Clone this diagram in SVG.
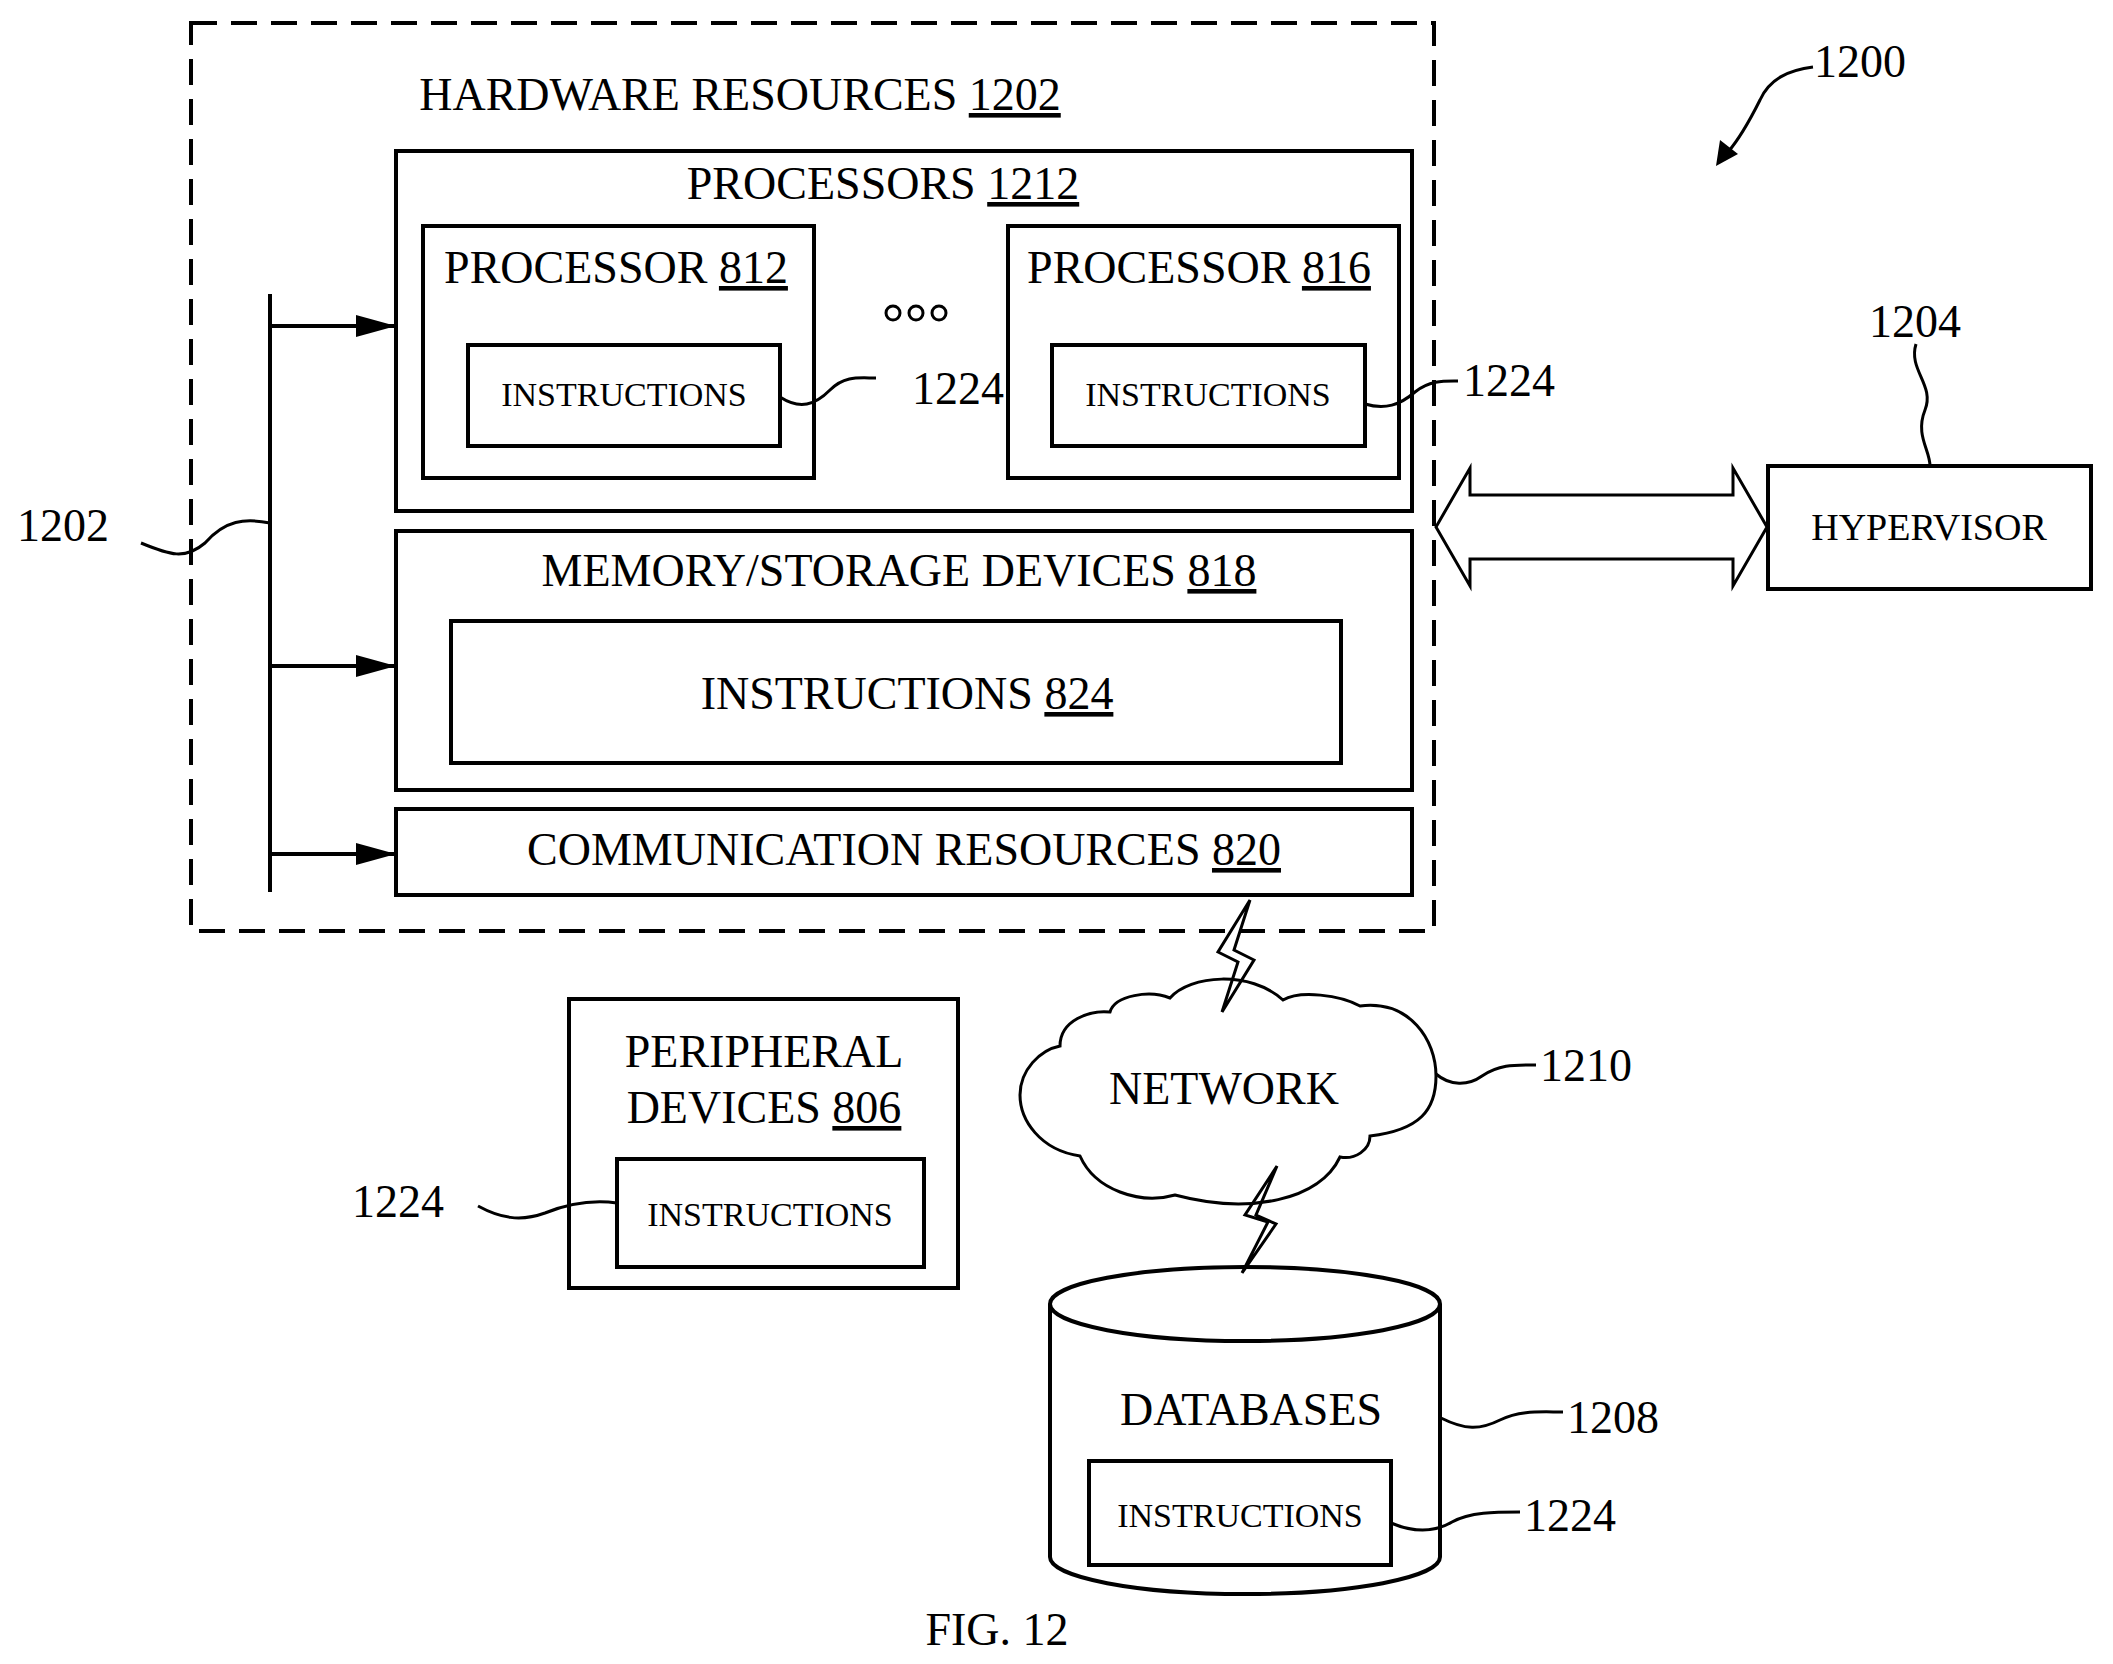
<svg xmlns="http://www.w3.org/2000/svg" width="2113" height="1664" viewBox="0 0 2113 1664">
<style>
text{font-family:"Liberation Serif","Times New Roman",serif;fill:#000;text-anchor:middle}
.b{font-size:46px}.s{font-size:34px}
.u{text-decoration:underline}
.box{fill:#fff;stroke:#000;stroke-width:4}
.ln{fill:none;stroke:#000;stroke-width:3}
</style>
<defs>
<marker id="ah" markerWidth="40" markerHeight="22" refX="40" refY="11" orient="auto" markerUnits="userSpaceOnUse" viewBox="0 0 40 22"><path d="M0,0L40,11L0,22z"/></marker>
</defs>
<rect width="2113" height="1664" fill="#fff"/>
<g id="hardware">
<rect x="191" y="23" width="1243" height="908" fill="none" stroke="#000" stroke-width="4" stroke-dasharray="26,14"/>
<text class="b" x="740" y="110">HARDWARE RESOURCES <tspan class="u">1202</tspan></text>
</g>
<g id="processors">
<rect class="box" x="396" y="151" width="1016" height="360"/>
<text class="b" x="883" y="199">PROCESSORS <tspan class="u">1212</tspan></text>
<circle cx="893" cy="313" r="7" class="ln"/><circle cx="916" cy="313" r="7" class="ln"/><circle cx="939" cy="313" r="7" class="ln"/>
</g>
<g id="p812">
<rect class="box" x="423" y="226" width="391" height="252"/>
<text class="b" x="616" y="283">PROCESSOR <tspan class="u">812</tspan></text>
<rect class="box" x="468" y="345" width="312" height="101"/>
<text class="s" x="624" y="406">INSTRUCTIONS</text>
</g>
<g id="p816">
<rect class="box" x="1008" y="226" width="391" height="252"/>
<text class="b" x="1199" y="283">PROCESSOR <tspan class="u">816</tspan></text>
<rect class="box" x="1052" y="345" width="313" height="101"/>
<text class="s" x="1208" y="406">INSTRUCTIONS</text>
</g>
<g id="memory">
<rect class="box" x="396" y="531" width="1016" height="259"/>
<text class="b" x="899" y="586">MEMORY/STORAGE DEVICES <tspan class="u">818</tspan></text>
<rect class="box" x="451" y="621" width="890" height="142"/>
<text class="b" x="907" y="709">INSTRUCTIONS <tspan class="u">824</tspan></text>
</g>
<g id="comm">
<rect class="box" x="396" y="809" width="1016" height="86"/>
<text class="b" x="904" y="865">COMMUNICATION RESOURCES <tspan class="u">820</tspan></text>
</g>
<g id="hypervisor">
<rect class="box" x="1768" y="466" width="323" height="123"/>
<text x="1929" y="540" style="font-size:38px">HYPERVISOR</text>
</g>
<g id="network">
<path class="ln" d="M1060,1046 C1060,1020 1090,1010 1110,1012 C1115,995 1150,990 1170,998 C1190,975 1250,970 1283,1000 C1300,990 1340,995 1360,1006 C1410,1000 1436,1040 1436,1076 C1436,1110 1420,1130 1370,1136 C1370,1150 1355,1160 1340,1157 C1320,1200 1250,1215 1175,1195 C1140,1205 1095,1190 1080,1156 C1040,1150 1020,1120 1020,1095 C1020,1070 1040,1050 1060,1046 Z"/>
<text class="b" x="1224" y="1104">NETWORK</text>
</g>
<g id="databases">
<path class="box" d="M1050,1304 L1050,1557 A195,37 0 0 0 1440,1557 L1440,1304"/>
<ellipse class="box" cx="1245" cy="1304" rx="195" ry="37"/>
<text class="b" x="1251" y="1425">DATABASES</text>
<rect class="box" x="1089" y="1461" width="302" height="104"/>
<text class="s" x="1240" y="1527">INSTRUCTIONS</text>
</g>
<g id="peripheral">
<rect class="box" x="569" y="999" width="389" height="289"/>
<text class="b" x="764" y="1067">PERIPHERAL</text>
<text class="b" x="764" y="1123">DEVICES <tspan class="u">806</tspan></text>
<rect class="box" x="617" y="1159" width="307" height="108"/>
<text class="s" x="770" y="1226">INSTRUCTIONS</text>
</g>
<g id="connectors">
<line x1="270" y1="294" x2="270" y2="892" stroke="#000" stroke-width="4"/>
<line x1="270" y1="326" x2="396" y2="326" stroke="#000" stroke-width="4" marker-end="url(#ah)"/>
<line x1="270" y1="666" x2="396" y2="666" stroke="#000" stroke-width="4" marker-end="url(#ah)"/>
<line x1="270" y1="854" x2="396" y2="854" stroke="#000" stroke-width="4" marker-end="url(#ah)"/>
<path class="ln" d="M1436,527 L1470,468 L1470,495 L1733,495 L1733,468 L1767,527 L1733,586 L1733,559 L1470,559 L1470,586 Z" fill="#fff" stroke-width="4"/>
<path class="ln" d="M1250,900 L1218,952 L1238,962 L1222,1012 L1254,960 L1234,950 Z"/>
<path class="ln" d="M1277,1166 L1245,1215 L1268,1222 L1242,1273 L1276,1224 L1256,1215 Z"/>
<path class="ln" d="M141,543 C170,555 185,560 205,543 C225,520 245,518 270,523"/>
<path class="ln" d="M780,397 C800,410 815,405 830,390 C845,375 860,378 876,378"/>
<path class="ln" d="M1365,404 C1385,410 1400,405 1415,392 C1430,380 1445,381 1458,381"/>
<path class="ln" d="M1916,344 C1908,370 1935,385 1925,410 C1915,435 1930,450 1930,466"/>
<path class="ln" d="M1436,1074 C1450,1086 1468,1086 1482,1076 C1500,1064 1515,1065 1536,1065"/>
<path class="ln" d="M1441,1418 C1465,1430 1480,1430 1500,1420 C1520,1410 1540,1412 1563,1412"/>
<path class="ln" d="M1391,1523 C1415,1533 1435,1532 1452,1522 C1470,1512 1495,1512 1520,1512"/>
<path class="ln" d="M478,1206 C500,1218 520,1222 545,1213 C570,1203 595,1200 617,1203"/>
<path class="ln" d="M1813,67 C1790,70 1770,78 1760,100 C1750,120 1740,138 1728,152"/>
<path d="M1716,166 L1720,140 L1738,154 Z"/>
</g>
<g id="labels">
<text class="b" x="63" y="541">1202</text>
<text class="b" x="958" y="404">1224</text>
<text class="b" x="1509" y="396">1224</text>
<text class="b" x="1915" y="337">1204</text>
<text class="b" x="1860" y="77">1200</text>
<text class="b" x="1586" y="1081">1210</text>
<text class="b" x="1613" y="1433">1208</text>
<text class="b" x="1570" y="1531">1224</text>
<text class="b" x="398" y="1217">1224</text>
<text class="b" x="997" y="1645">FIG. 12</text>
</g>
</svg>
